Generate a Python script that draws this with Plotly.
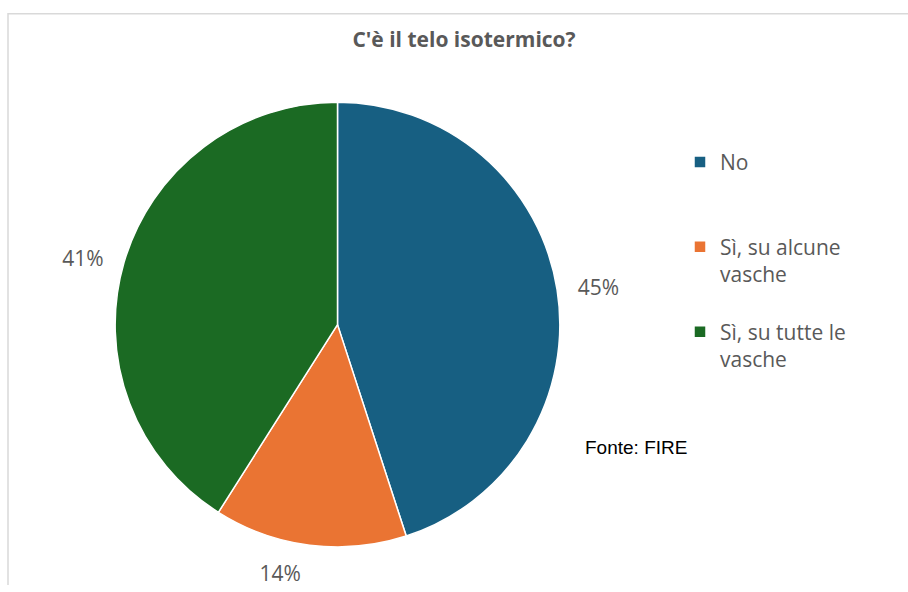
import plotly.graph_objects as go

W, H = 908, 592

categories = ["No", "Sì, su alcune vasche", "Sì, su tutte le vasche"]
legend_labels = ["No<br>\u00a0<br>\u00a0", "Sì, su alcune<br>vasche<br>\u00a0", "Sì, su tutte le<br>vasche"]
values = [45, 14, 41]
colors = ["#175F82", "#EA7433", "#1B6A23"]

title_text = "C'è il telo isotermico?"
source_text = "Fonte: FIRE"

# pie geometry in pixels
cx, cy, r = 337.5, 328.5, 225
rg = 239  # ghost radius for label placement

def dom(rad):
    return dict(x=[(cx - rad) / W, (cx + rad) / W], y=[1 - (cy + rad) / H, 1 - (cy - rad) / H])

fig = go.Figure()

# ghost pie carrying the outside percentage labels
fig.add_trace(go.Pie(
    labels=legend_labels, values=values, sort=False, direction="clockwise", rotation=0,
    domain=dom(rg), marker=dict(colors=["rgba(0,0,0,0)"] * 3, line=dict(width=0)),
    textinfo="percent", textposition="outside",
    textfont=dict(family="Open Sans", size=21, color="#595959"),
    showlegend=False, hoverinfo="skip",
))

fig.add_trace(go.Pie(
    labels=legend_labels, values=values, sort=False, direction="clockwise", rotation=0,
    domain=dom(r), marker=dict(colors=colors, line=dict(color="white", width=1.5)),
    textinfo="none", hovertext=categories, hoverinfo="text+percent",
))

fig.update_layout(
    width=W, height=H,
    margin=dict(l=0, r=0, t=0, b=0),
    paper_bgcolor="white",
    title=dict(text="<b>" + title_text + "</b>", x=464 / W, xanchor="center",
               y=1 - 40 / H, yanchor="middle",
               font=dict(family="Open Sans", size=21, color="#595959")),
    legend=dict(x=680 / W, xanchor="left", y=1 - 143.5 / H, yanchor="top",
                valign="top", font=dict(family="Open Sans", size=21, color="#595959"),
                itemwidth=30, tracegroupgap=0),
    shapes=[dict(type="path", xref="paper", yref="paper",
                 path=f"M {8/W},0 L {8/W},{1-14/H} L 1,{1-14/H}",
                 line=dict(color="#D9D9D9", width=1.5))],
    annotations=[dict(text=source_text, x=583 / W, y=1 - 453 / H, xref="paper", yref="paper",
                      xanchor="left", yanchor="middle", showarrow=False,
                      font=dict(family="Liberation Sans", size=19, color="#000000"))],
)

fig.write_html("out.html", post_script="document.body.style.margin='0';",
               config={"displayModeBar": False})
